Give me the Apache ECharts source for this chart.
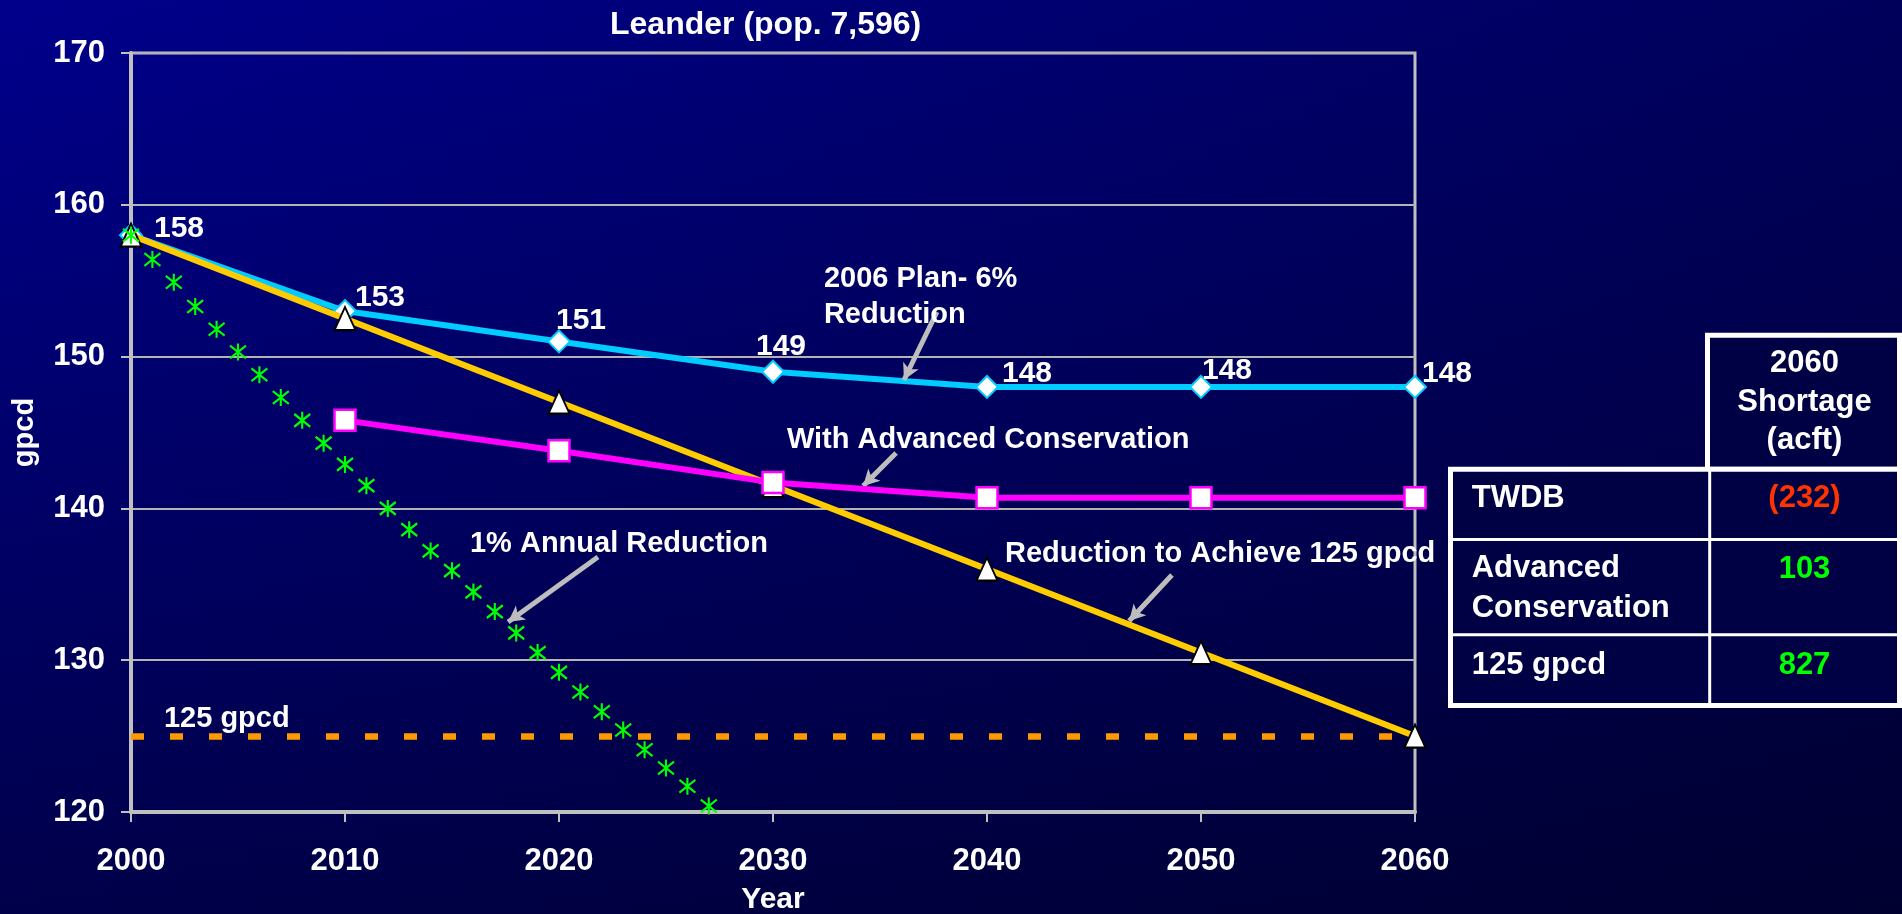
<!DOCTYPE html>
<html>
<head>
<meta charset="utf-8">
<title>Leander gpcd</title>
<script src="https://cdn.jsdelivr.net/npm/echarts@6.0.0/dist/echarts.min.js"></script>
<style>
  html, body { margin: 0; padding: 0; background: #000060; }
  #main { width: 1902px; height: 914px; }
</style>
</head>
<body>
<div id="main"></div>
<script>
// data
var years = [2000, 2010, 2020, 2030, 2040, 2050, 2060];
var planValues = [158, 153, 151, 149, 148, 148, 148];
var advancedValues = [null, 145.8, 143.8, 141.7, 140.7, 140.7, 140.7];
var targetValues = [158, 152.5, 147, 141.5, 136, 130.5, 125];
var annualYears = [2000, 2001, 2002, 2003, 2004, 2005, 2006, 2007, 2008, 2009,
  2010, 2011, 2012, 2013, 2014, 2015, 2016, 2017, 2018, 2019,
  2020, 2021, 2022, 2023, 2024, 2025, 2026, 2027];
var annualValues = [158.0, 156.4, 154.9, 153.3, 151.8, 150.3, 148.8, 147.3, 145.8, 144.3,
  142.9, 141.5, 140.0, 138.6, 137.2, 135.9, 134.5, 133.2, 131.8, 130.5,
  129.2, 127.9, 126.6, 125.4, 124.1, 122.9, 121.7, 120.4];
var goalLevel = 125;

var tableHeader = "2060\nShortage\n(acft)";
var tableRows = ["TWDB", "Advanced\nConservation", "125 gpcd"];
var tableValues = ["(232)", "103", "827"];

var FONT = '"Liberation Sans", Arial, sans-serif';
var GRAY = "#c0c0c0";

var myChart = echarts.init(document.getElementById("main"));

// label nudges for the plan series (left edge / middle relative to point)
var planLabelShift = [[22, -6], [9, -13], [-4, -21], [-18, -25], [14, -13], [0, -16], [6, -13]];

function pairs(xs, ys) {
  var out = [];
  xs.forEach(function (x, i) {
    if (ys[i] != null) out.push([x, ys[i]]);
  });
  return out;
}

var planData = years.map(function (y, i) {
  return {
    value: [y, planValues[i]],
    label: { offset: [planLabelShift[i][0] - 11, planLabelShift[i][1]] }
  };
});

// annotation text and arrows, placed in data coordinates
var notes = [
  { text: "2006 Plan- 6%\nReduction", coord: [2032.38, 153.99] },
  { text: "With Advanced Conservation", coord: [2030.65, 144.57] },
  { text: "Reduction to Achieve 125 gpcd", coord: [2040.84, 137.03] },
  { text: "1% Annual Reduction", coord: [2015.84, 137.75] },
  { text: "125 gpcd", coord: [2001.54, 126.22] }
];
var arrows = [
  [[2037.66, 152.94], [2036.12, 148.46]],
  [[2035.75, 143.65], [2034.21, 141.48]],
  [[2048.64, 135.61], [2046.64, 132.58]],
  [[2021.82, 136.80], [2017.62, 132.52]]
];

var labelText = { color: "#fff", fontSize: 29, fontWeight: "bold", fontFamily: FONT };

var option = {
  animation: false,
  backgroundColor: {
    type: "linear", x: 0, y: 0, x2: 0, y2: 1,
    colorStops: [{ offset: 0, color: "#00008c" }, { offset: 1, color: "#00004a" }]
  },
  title: {
    text: "Leander (pop. 7,596)",
    left: 610,
    top: 9,
    padding: 0,
    textStyle: { color: "#fff", fontSize: 32, fontWeight: "bold", fontFamily: FONT }
  },
  grid: {
    left: 131,
    right: 487,
    top: 53,
    bottom: 102,
    show: true,
    borderColor: GRAY,
    borderWidth: 3,
    containLabel: false,
    outerBoundsMode: "none"
  },
  xAxis: {
    type: "value",
    min: 2000,
    max: 2060,
    interval: 10,
    name: "Year",
    nameLocation: "middle",
    nameGap: 73,
    nameTextStyle: { color: "#fff", fontSize: 30, fontWeight: "bold", fontFamily: FONT },
    axisLine: { show: true, lineStyle: { color: GRAY, width: 4 } },
    axisTick: { show: true, length: 10, lineStyle: { color: GRAY, width: 2 } },
    splitLine: { show: false },
    axisLabel: {
      color: "#fff", fontSize: 31, fontWeight: "bold", fontFamily: FONT, margin: 34,
      showMinLabel: true, showMaxLabel: true,
      formatter: function (v) { return String(v); }
    }
  },
  yAxis: {
    type: "value",
    min: 120,
    max: 170,
    interval: 10,
    name: "gpcd",
    nameLocation: "middle",
    nameRotate: 90,
    nameGap: 92,
    nameTextStyle: { color: "#fff", fontSize: 29, fontWeight: "bold", fontFamily: FONT },
    axisLine: { show: true, lineStyle: { color: GRAY, width: 4 } },
    axisTick: { show: true, length: 10, lineStyle: { color: GRAY, width: 2 } },
    splitLine: { show: true, lineStyle: { color: "#b4b4b4", width: 2 } },
    axisLabel: { color: "#fff", fontSize: 31, fontWeight: "bold", fontFamily: FONT, margin: 26 }
  },
  series: [
    {
      name: "2006 Plan- 6% Reduction",
      type: "line",
      z: 3,
      data: planData,
      symbol: "diamond",
      symbolSize: 22,
      lineStyle: { color: "#00ccff", width: 6 },
      itemStyle: { color: "#ffffff", borderColor: "#00ccff", borderWidth: 2 },
      label: {
        show: true,
        position: "right",
        distance: 0,
        align: "left",
        verticalAlign: "middle",
        color: "#fff",
        fontSize: 30,
        fontWeight: "bold",
        fontFamily: FONT,
        formatter: function (p) { return p.value[1]; }
      },
      markLine: {
        silent: true,
        symbol: ["none", "arrow"],
        symbolSize: [13, 16],
        label: { show: false },
        lineStyle: { color: "#bdbdbd", width: 5, type: "solid" },
        data: arrows.map(function (a) {
          return [{ coord: a[0] }, { coord: a[1] }];
        })
      }
    },
    {
      name: "Reduction to Achieve 125 gpcd",
      type: "line",
      z: 4,
      data: pairs(years, targetValues),
      symbol: "triangle",
      symbolSize: [21, 23],
      lineStyle: { color: "#ffcc00", width: 6 },
      itemStyle: { color: "#ffffff", borderColor: "#000000", borderWidth: 2 },
      markLine: {
        silent: true,
        symbol: "none",
        label: { show: false },
        lineStyle: { color: "#ff9900", width: 6.5, type: [13, 26], cap: "butt" },
        data: [{ yAxis: goalLevel }]
      }
    },
    {
      name: "With Advanced Conservation",
      type: "line",
      z: 5,
      data: pairs(years, advancedValues),
      symbol: "rect",
      symbolSize: 21,
      lineStyle: { color: "#ff00ff", width: 6 },
      itemStyle: { color: "#ffffff", borderColor: "#ff00ff", borderWidth: 2.5 }
    },
    {
      name: "1% Annual Reduction",
      type: "scatter",
      z: 6,
      data: pairs(annualYears, annualValues),
      symbol: "path://M8,0L8,16M0,2L16,14M0,14L16,2",
      symbolSize: [16, 17],
      itemStyle: { color: "none", borderColor: "#00ff00", borderWidth: 2.2, opacity: 1 },
      markPoint: {
        silent: true,
        symbol: "circle",
        symbolSize: 0,
        label: Object.assign({
          show: true,
          position: [0, 0],
          offset: [0, 1],
          align: "left",
          verticalAlign: "middle",
          lineHeight: 36,
          formatter: function (p) { return p.name; }
        }, labelText),
        data: notes.map(function (n) {
          return { name: n.text, coord: n.coord };
        })
      }
    }
  ],
  graphic: [
    {
      type: "rect",
      z: -100,
      silent: true,
      shape: { x: 0, y: 0, width: 1902, height: 914 },
      style: {
        fill: {
          type: "linear", x: 0, y: 0, x2: 1, y2: 0,
          colorStops: [{ offset: 0, color: "rgba(0,0,0,0)" }, { offset: 1, color: "rgba(0,0,0,0.35)" }]
        }
      }
    }
  ]
};

// shortage table at the right
var cellFill = "#000044";
var tableFont = "bold 31px " + FONT;
var tbl = [
  { type: "rect", shape: { x: 1707.5, y: 335.2, width: 192, height: 134 },
    style: { fill: cellFill, stroke: "#fff", lineWidth: 5 } },
  { type: "rect", shape: { x: 1450.5, y: 469.2, width: 449, height: 236.3 },
    style: { fill: cellFill, stroke: "#fff", lineWidth: 5 } },
  { type: "line", shape: { x1: 1709.7, y1: 469, x2: 1709.7, y2: 705 },
    style: { stroke: "#fff", lineWidth: 3 } },
  { type: "line", shape: { x1: 1450, y1: 539.5, x2: 1899, y2: 539.5 },
    style: { stroke: "#fff", lineWidth: 3 } },
  { type: "line", shape: { x1: 1450, y1: 634.7, x2: 1899, y2: 634.7 },
    style: { stroke: "#fff", lineWidth: 3 } },
  { type: "text", style: { text: tableHeader, x: 1804.5, y: 402, fill: "#fff", font: tableFont,
    textAlign: "center", textVerticalAlign: "middle", align: "center", verticalAlign: "middle", lineHeight: 38.5 } }
];
var rowMid = [498.3, 588, 665];
var valMid = [498.5, 569, 665];
var valColors = ["#ff3300", "#00ff00", "#00ff00"];
tableRows.forEach(function (r, i) {
  tbl.push({ type: "text", style: { text: r, x: 1471.7, y: rowMid[i], fill: "#fff", font: tableFont,
    textAlign: "left", textVerticalAlign: "middle", align: "left", verticalAlign: "middle", lineHeight: 40 } });
  tbl.push({ type: "text", style: { text: tableValues[i], x: 1804.5, y: valMid[i], fill: valColors[i], font: tableFont,
    textAlign: "center", textVerticalAlign: "middle", align: "center", verticalAlign: "middle" } });
});
option.graphic.push({ type: "group", z: 20, silent: true, children: tbl });

myChart.setOption(option);

addEventListener("resize", function () {
  setTimeout(function () { myChart.resize(); }, 30);
});
</script>
</body>
</html>
